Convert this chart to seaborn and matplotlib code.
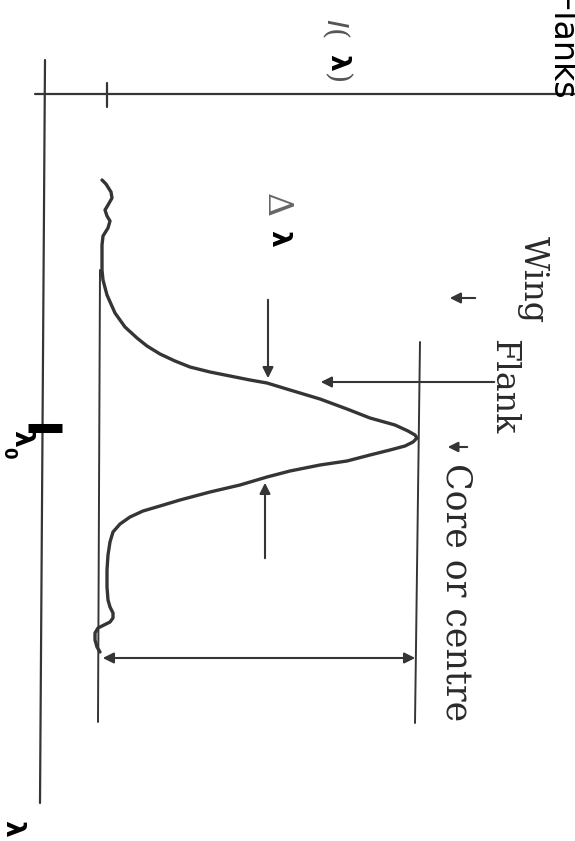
import matplotlib
matplotlib.use("Agg")
import matplotlib.pyplot as plt
import seaborn as sns
import pandas as pd

# Line profile sampled along the wavelength direction (drawn vertically)
profile_wavelength = [180, 184, 192, 198, 205, 210, 216, 221, 228, 236, 245, 260,
                      270, 280, 295, 313, 327, 338, 346, 354, 361, 367, 372, 376,
                      380, 383, 390, 399, 409, 418, 425, 431, 435, 438, 442, 446,
                      450, 455, 461, 465, 471, 477, 485, 492, 500, 506, 511, 517,
                      524, 532, 542, 555, 570, 587, 600, 607, 613, 618, 622, 625,
                      628, 633, 640, 647, 652]
profile_intensity = [102, 106, 111, 112, 108, 105, 107, 110, 108, 103, 102, 102,
                     102, 103, 107, 115, 125, 137, 147, 160, 175, 190, 210, 230,
                     250, 267, 290, 320, 347, 370, 395, 408, 415, 417, 413, 405,
                     390, 370, 347, 320, 290, 267, 240, 210, 180, 160, 143, 130,
                     120, 113, 110, 108, 107, 107, 108, 110, 113, 113, 110, 104,
                     98, 95, 95, 97, 100]

continuum_level = 100
core_level = 418
line_centre = 428
half_width_upper = 381
half_width_lower = 480

profile = pd.DataFrame({"wavelength": profile_wavelength,
                        "intensity": profile_intensity})

sns.set_theme(style="white")
plt.rcParams["font.family"] = ["DejaVu Sans"]

fig = plt.figure(figsize=(5.75, 8.41), dpi=100)
ax = fig.add_axes([0, 0, 1, 1])

ink = "#353535"

# axes of the diagram
ax.plot([45, 40], [60, 803], color=ink, lw=1.6)
ax.plot([35, 575], [94, 94], color=ink, lw=1.6)
ax.plot([107, 107], [83, 107], color=ink, lw=1.6)

# continuum and core levels
ax.plot([continuum_level, 98], [270, 722], color=ink, lw=1.4)
ax.plot([core_level + 2, core_level - 3], [342, 723], color=ink, lw=1.4)

# the profile itself
sns.lineplot(data=profile, x="intensity", y="wavelength", sort=False,
             estimator=None, color=ink, lw=2.4, ax=ax)
ax.set_xlim(0, 575)
ax.set_ylim(841, 0)
ax.axis("off")

arrow = dict(arrowstyle="-|>", color=ink, lw=1.5, mutation_scale=16)

# depth of the line
ax.annotate("", xy=(continuum_level, 658), xytext=(core_level, 658),
            arrowprops=dict(arrowstyle="<|-|>", color=ink, lw=1.5, mutation_scale=16))
# half-width markers
ax.annotate("", xy=(268, half_width_upper), xytext=(268, 297), arrowprops=arrow)
ax.annotate("", xy=(265, half_width_lower), xytext=(265, 561), arrowprops=arrow)
# region pointers
ax.annotate("", xy=(318, 382), xytext=(497, 382), arrowprops=arrow)
ax.annotate("", xy=(447, 298), xytext=(478, 298), arrowprops=arrow)
ax.annotate("", xy=(445, 447), xytext=(470, 447),
            arrowprops=dict(arrowstyle="-|>", color=ink, lw=1.5, mutation_scale=15))

# centre wavelength tick
ax.plot([28, 62], [line_centre, line_centre], color="black", lw=6.5,
        solid_capstyle="butt")

serif = "DejaVu Serif"
ax.text(533, 280, "Wing", rotation=-90, ha="center", va="center",
        family=serif, fontsize=24, color="#2a2a2a")
ax.text(503, 387, "Flank", rotation=-90, ha="center", va="center",
        family=serif, fontsize=24, color="#2a2a2a")
ax.text(457, 592, "Core or centre", rotation=-90, ha="center", va="center",
        family=serif, fontsize=25, color="#2a2a2a")

ax.text(560, 48, "Flanks", rotation=-90, ha="center", va="center",
        fontsize=24, color="black")

# intensity label
ax.text(336, 28, "$I$(", rotation=-90, ha="center", va="center",
        family=serif, fontsize=21, color="#555555")
ax.text(337, 62, "λ", rotation=-90, ha="center", va="center",
        fontsize=19, fontweight="bold", color="black")
ax.text(336, 79, ")", rotation=-90, ha="center", va="center",
        family=serif, fontsize=21, color="#555555")

# half-width label
ax.text(276, 205, "Δ", rotation=-90, ha="center", va="center",
        family=serif, fontsize=24, color="#666666")
ax.text(278, 238, "λ", rotation=-90, ha="center", va="center",
        fontsize=19, fontweight="bold", color="black")

# wavelength labels
ax.text(21, 438, "λ", rotation=-90, ha="center", va="center",
        fontsize=19, fontweight="bold", color="black")
ax.text(8, 453, "0", rotation=-90, ha="center", va="center",
        fontsize=12, fontweight="bold", color="black")
ax.text(12, 828, "λ", rotation=-90, ha="center", va="center",
        fontsize=19, fontweight="bold", color="black")

fig.savefig("out.png", dpi=100, facecolor="white")
